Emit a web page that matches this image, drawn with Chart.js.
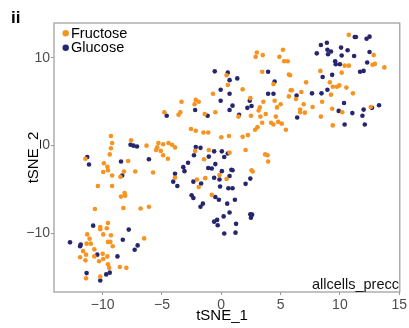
<!DOCTYPE html>
<html>
<head>
<meta charset="utf-8">
<script src="https://cdn.jsdelivr.net/npm/chart.js@4.4.1/dist/chart.umd.min.js"></script>
<style>
  html, body { margin: 0; padding: 0; background: #fff; }
  #wrap { width: 409px; height: 328px; }
</style>
</head>
<body>
<div id="wrap"><canvas id="tsne" width="409" height="328"></canvas></div>
<script>
// tSNE coordinates
var fructoseX = [-4.8, -9.3, -9.2, -9.3, -9.4, -7.6, -6.3, -5.3, -5.4, -5.5, -5.1, -4.9, -4.9, -4.45, -4.15, -3.9,
  5.2, 3.0, 2.9, 3.5, 4.9, 5.3, 5.6, 0.45, 0.55, 3.45, 5.7, 5.8, 4.4, -0.7, 1.8, 2.45, 4.5, 3.55, 5.0,
  -3.35, -2.15, -1.9, -2.25, 3.25, 3.15, 4.7, -3.45, -3.6, -1.4, -0.5, 1.45, 2.5, 3.75, 3.3, 4.6,
  3.45, 4.2, 4.8, 4.4, 5.1, 5.45, 3.05, 2.85, 2.25, 1.8, -2.55, -2.15, -1.5, -1.1, 0.0, 0.65,
  -2.2, -1.05, 0.7, 2.05, 3.7, 3.9,
  10.75, 12.85, 10.4, 10.75, 12.75, 12.95, 13.75, 8.35, 10.15, 7.15, 9.15, 9.4, 9.75, 9.95, 10.55,
  5.85, 5.95, 6.75, 9.25, 11.1, 5.7, 6.3, 8.5, 6.95, 7.7, 9.35, 6.65, 6.65, 7.05, 10.2, 12.6, 8.4, 9.4,
  -11.45, -9.9, -9.6, -9.55, -9.95, -7.85, -4.5, -9.2, -8.5, -8.2, -7.25, -5.75, -10.4, -9.2,
  -8.15, -8.1, -8.45, -10.65, -8.25, -6.8, -6.1, -9.55, -10.2, -10.2, -9.65, -11.3, -9.95, -9.3,
  -11.1, -6.5, -11.35, -11.0, -9.55, -9.35, -9.15, -11.65, -10.7, -11.4, -11.9, -11.45, -10.0,
  -10.7, -9.6, -9.95, -10.3, -9.55, -9.45, -8.55, -8.0, -11.4, -10.2,
  -1.45, 3.95, 2.55, 2.65, -3.9, -0.15, 0.45, -1.35, -2.05, -1.9, -0.8];
var fructoseY = [3.8, 1.1, 0.3, -0.3, -1.0, 0.6, 0.0, 0.3, -0.2, -0.5, -0.6, -1.1, 0.15, 0.3, 0.1, -0.2,
  10.9, 10.6, 10.1, 10.3, 10.1, 9.6, 9.6, 8.0, 6.9, 8.4, 8.1, 8.0, 7.0, 5.9, 6.4, 5.4, 5.1, 5.0, 4.7,
  5.0, 5.2, 5.0, 4.7, 4.35, 4.0, 4.35, 3.8, 3.5, 3.6, 3.8, 3.3, 3.4, 3.6, 3.3, 3.3,
  2.6, 2.6, 2.7, 2.4, 2.5, 1.8, 2.1, 1.8, 1.2, 1.0, 1.9, 1.7, 1.5, 1.5, 0.95, 1.1,
  -0.6, -0.5, -0.8, -0.5, -1.0, -1.1,
  12.6, 10.3, 9.1, 9.1, 9.2, 9.3, 8.9, 8.5, 8.3, 7.2, 7.2, 6.7, 6.7, 6.85, 6.6,
  6.3, 6.3, 6.1, 5.8, 5.95, 5.6, 5.3, 5.0, 4.7, 4.4, 4.2, 4.1, 3.8, 3.75, 3.8, 4.4, 3.3, 2.3,
  -1.5, -2.0, -2.4, -2.8, -3.0, -1.75, -1.5, -3.4, -3.55, -2.95, -2.95, -3.05, -4.6, -4.6,
  -5.4, -5.7, -5.8, -7.2, -7.1, -7.15, -6.95, -8.8, -9.25, -9.5, -9.4, -10.1, -10.1, -10.2,
  -10.6, -10.55, -11.15, -11.15, -10.95, -10.95, -11.45, -12.0, -11.8, -12.4, -12.7, -13.05, -12.3,
  -12.6, -12.6, -12.9, -13.15, -13.5, -13.9, -13.8, -13.9, -15.1, -14.9,
  -1.55, -1.8, -2.8, -2.95, -3.65, -3.35, -3.8, -3.7, -3.85, -4.7, -5.6];

var glucoseX = [-4.6, -11.3, -7.65, -7.4, -7.1,
  -0.55, 0.55, 0.7, 1.35, 3.95, 4.5, -0.05, 0.7, 3.95, 4.4, 2.4, -0.05, 0.95, -2.2, 0.7, 2.2, 2.55,
  -1.15, 1.5, -2.15, -1.75, -0.6, 0.05, 0.55, -2.3, -1.05, 0.25,
  11.25, 11.35, 12.5, 12.25, 8.9, 8.4, 10.1, 8.95, 9.25, 9.0, 8.05, 10.65, 10.15, 11.2, 12.5,
  9.6, 9.65, 10.0, 12.3, 12.0, 11.7, 9.35, 8.55, 8.95, 7.65, 8.45, 6.35, 10.35, 9.9, 11.05,
  12.0, 12.7, 13.3, 11.9, 6.4, 10.4, 12.1,
  -11.15, -8.45, -6.1, -8.35, -4.05, -10.8, -7.8, -8.3, -12.75, -11.85, -11.9, -7.05, -7.3,
  -10.45, -8.75, -11.35, -9.7, -9.4, -10.2,
  -2.8, -0.5, -3.2, -3.1, -1.1, -0.8, 0.05, 0.85, 0.95, -3.9, -3.7, -0.6, -0.15, 0.7, -2.35,
  -1.7, -0.1, 0.6, 0.95, 2.45, 2.05, -2.5, -2.35, -0.5, -0.2, 1.15, -1.55, -1.75, 0.5, 0.7,
  0.2, 2.45, 2.6, 2.5, -0.35, -0.6, -0.3, 1.25, 0.25, 1.2];
var glucoseY = [3.4, -1.3, 0.1, 0.0, -0.1,
  8.45, 8.3, 7.45, 7.65, 8.4, 7.3, 6.35, 5.9, 5.9, 5.9, 5.1, 5.1, 4.55, 4.05, 4.05, 4.3, 4.5,
  3.4, 3.5, -0.15, -0.25, -0.65, -0.65, -0.9, -1.1, -1.25, -1.3,
  12.35, 12.35, 12.4, 12.15, 11.7, 11.45, 11.15, 10.9, 10.7, 10.4, 10.5, 10.85, 10.25, 10.2, 10.65,
  9.6, 9.25, 9.25, 9.45, 8.5, 8.4, 8.05, 7.8, 6.35, 5.95, 5.95, 5.7, 4.85, 3.95, 3.7,
  4.1, 4.3, 4.6, 3.4, 3.2, 2.4, 2.4,
  -2.15, -1.8, -1.55, -3.4, -4.1, -9.1, -9.55, -10.7, -11.0, -11.25, -11.45, -11.35, -11.85,
  -12.4, -12.6, -14.5, -14.65, -14.45, -15.35,
  -1.95, -2.1, -2.45, -2.9, -2.55, -2.6, -2.9, -2.75, -2.8, -3.2, -4.6, -3.65, -3.85, -3.45, -4.1,
  -4.3, -4.65, -4.85, -4.85, -3.75, -4.35, -5.65, -5.95, -5.85, -6.15, -6.15, -6.6, -6.95, -6.6, -7.6,
  -8.05, -7.8, -7.85, -8.2, -8.45, -8.65, -9.05, -8.9, -10.0, -9.9];

var seriesNames = ["Fructose", "Glucose"];
var seriesColors = ["#f7931e", "#26266e"];
var xTicks = [-10, -5, 0, 5, 10, 15];
var yTicks = [-10, 0, 10];

function toPoints(xs, ys) {
  return xs.map(function (x, i) { return { x: x, y: ys[i] }; });
}

function minusLabel(v) {
  return v < 0 ? "\u2212" + Math.abs(v) : String(v);
}

var FONT = "Liberation Sans, Arial, sans-serif";

// frame, panel tag, legend, corner label and axis titles
var decorations = {
  id: "decorations",
  afterDraw: function (chart) {
    var ctx = chart.ctx;
    var a = chart.chartArea;
    ctx.save();
    ctx.strokeStyle = "#9a9a9a";
    ctx.lineWidth = 1.2;
    ctx.strokeRect(a.left, a.top, a.right - a.left, a.bottom - a.top);

    ctx.fillStyle = "#000";
    ctx.font = "bold 17px " + FONT;
    ctx.textBaseline = "alphabetic";
    ctx.textAlign = "left";
    ctx.fillText("ii", 11, 23);

    ctx.font = "14.5px " + FONT;
    ctx.textBaseline = "middle";
    for (var i = 0; i < seriesNames.length; i++) {
      var cy = 33.3 + i * 14.4;
      ctx.fillStyle = seriesColors[i];
      ctx.beginPath();
      ctx.arc(65.7, cy, 3.2, 0, Math.PI * 2);
      ctx.fill();
      ctx.fillStyle = "#000";
      ctx.fillText(seriesNames[i], 71, cy + 0.5);
    }

    ctx.textAlign = "right";
    ctx.textBaseline = "alphabetic";
    ctx.fillStyle = "#111";
    ctx.fillText("allcells_precc", 399, 289);

    ctx.font = "15px " + FONT;
    ctx.fillStyle = "#000";
    ctx.textAlign = "center";
    ctx.fillText("tSNE_1", 222, 320);
    ctx.translate(38, (a.top + a.bottom) / 2);
    ctx.rotate(-Math.PI / 2);
    ctx.fillText("tSNE_2", 0, 0);
    ctx.restore();
  }
};

var ctx = document.getElementById("tsne").getContext("2d");

new Chart(ctx, {
  type: "scatter",
  data: {
    datasets: [
      {
        label: seriesNames[0],
        data: toPoints(fructoseX, fructoseY),
        backgroundColor: seriesColors[0],
        borderWidth: 0,
        pointRadius: 2.3
      },
      {
        label: seriesNames[1],
        data: toPoints(glucoseX, glucoseY),
        backgroundColor: seriesColors[1],
        borderWidth: 0,
        pointRadius: 2.3
      }
    ]
  },
  options: {
    responsive: false,
    animation: false,
    devicePixelRatio: 1,
    layout: { padding: { left: 0, right: 7, top: 23, bottom: 0 } },
    plugins: {
      legend: { display: false },
      tooltip: { enabled: false }
    },
    scales: {
      x: {
        type: "linear",
        min: -14.1,
        max: 15.05,
        afterBuildTicks: function (scale) {
          scale.ticks = xTicks.map(function (v) { return { value: v }; });
        },
        afterFit: function (scale) { scale.height = 36; },
        grid: { display: true, drawOnChartArea: false, drawTicks: true, tickLength: 3, color: "#9a9a9a" },
        border: { display: false },
        ticks: {
          autoSkip: false,
          maxRotation: 0,
          padding: 2,
          color: "#4d4d4d",
          font: { family: FONT, size: 14 },
          callback: function (v) { return minusLabel(v); }
        }
      },
      y: {
        type: "linear",
        min: -16.65,
        max: 13.95,
        afterBuildTicks: function (scale) {
          scale.ticks = yTicks.map(function (v) { return { value: v }; });
        },
        afterFit: function (scale) { scale.width = 54; },
        grid: { display: true, drawOnChartArea: false, drawTicks: true, tickLength: 3, color: "#9a9a9a" },
        border: { display: false },
        ticks: {
          autoSkip: false,
          padding: 1,
          color: "#4d4d4d",
          font: { family: FONT, size: 14 },
          callback: function (v) { return minusLabel(v); }
        }
      }
    }
  },
  plugins: [decorations]
});
</script>
</body>
</html>
